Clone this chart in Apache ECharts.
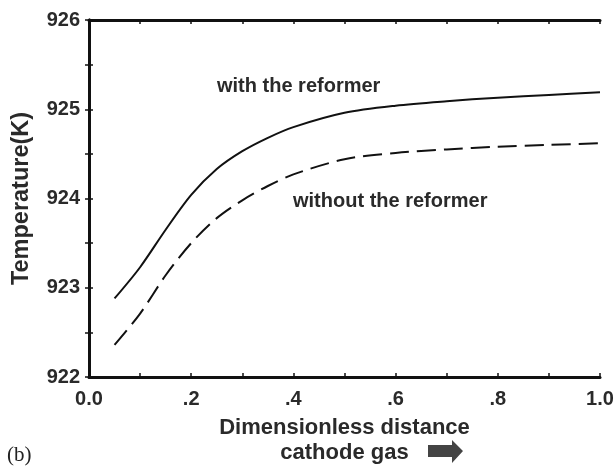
<!DOCTYPE html>
<html>
  <head>
    <meta charset="utf-8" />
    <title>Temperature along cathode gas</title>
    <script src="https://cdn.jsdelivr.net/npm/echarts@6/dist/echarts.min.js"></script>
    <style>
      body { margin: 0; padding: 0; background: #fff; }
      #main { width: 615px; height: 468px; }
    </style>
  </head>
  <body>
    <div id="main"></div>
    <script type="text/javascript">
      // dimensionless distance along the cathode gas
      var distance = [0.05, 0.1, 0.15, 0.2, 0.25, 0.3, 0.35, 0.4, 0.5, 0.6, 0.7, 0.8, 0.9, 1.0];
      var withReformer = [922.88, 923.23, 923.65, 924.04, 924.33, 924.53, 924.68, 924.80, 924.96, 925.04, 925.09, 925.13, 925.16, 925.19];
      var withoutReformer = [922.36, 922.71, 923.14, 923.50, 923.78, 923.98, 924.14, 924.27, 924.44, 924.51, 924.55, 924.58, 924.60, 924.62];
      var xTickLabels = { "0.0": "0.0", "0.2": ".2", "0.4": ".4", "0.6": ".6", "0.8": ".8", "1.0": "1.0" };

      var myChart = echarts.init(document.getElementById("main"));
      var ink = "#111";
      var textCol = "#2a2a2a";
      var font = "Liberation Sans, Arial, sans-serif";

      function pairs(ys) {
        return distance.map(function (x, i) { return [x, ys[i]]; });
      }

      var frameLine = { show: true, lineStyle: { color: ink, width: 3 } };
      var tickIn = { show: true, inside: true, length: 4, lineStyle: { color: ink, width: 1.5 } };

      var option = {
        animation: false,
        grid: { left: 89, right: 15, top: 20, bottom: 91, outerBoundsMode: "none", containLabel: false },
        xAxis: [
          {
            type: "value", min: 0, max: 1, interval: 0.1,
            axisLine: frameLine, axisTick: tickIn, splitLine: { show: false },
            axisLabel: {
              margin: 12, color: textCol, fontWeight: "bold", fontSize: 20, fontFamily: font,
              formatter: function (v) { return xTickLabels[v.toFixed(1)] || ""; }
            },
            name: "Dimensionless distance\ncathode gas",
            nameLocation: "middle", nameGap: 38,
            nameTextStyle: { color: textCol, fontWeight: "bold", fontSize: 22, fontFamily: font, lineHeight: 25 }
          },
          {
            type: "value", position: "top", min: 0, max: 1, interval: 0.1,
            axisLine: frameLine, axisTick: tickIn, axisLabel: { show: false }, splitLine: { show: false }
          }
        ],
        yAxis: [
          {
            type: "value", min: 922, max: 926, interval: 0.5,
            axisLine: frameLine, axisTick: tickIn, splitLine: { show: false },
            axisLabel: {
              margin: 9, color: textCol, fontWeight: "bold", fontSize: 20, fontFamily: font,
              formatter: function (v) { return v % 1 === 0 ? String(v) : ""; }
            },
            name: "Temperature(K)", nameLocation: "middle", nameGap: 55,
            nameTextStyle: { color: textCol, fontWeight: "bold", fontSize: 23.5, fontFamily: font }
          },
          {
            type: "value", position: "right", min: 922, max: 926, interval: 0.5,
            axisLine: frameLine, axisTick: tickIn, axisLabel: { show: false }, splitLine: { show: false }
          }
        ],
        series: [
          {
            name: "with the reformer", type: "line", smooth: 0.3, symbol: "none",
            data: pairs(withReformer),
            lineStyle: { color: ink, width: 2 }
          },
          {
            name: "without the reformer", type: "line", smooth: 0.3, symbol: "none",
            data: pairs(withoutReformer),
            lineStyle: { color: ink, width: 2, type: [19, 8] }
          }
        ],
        graphic: [
          {
            type: "text", left: 217, top: 76,
            style: { text: "with the reformer", fill: textCol, font: "bold 20px " + font }
          },
          {
            type: "text", left: 293, top: 191,
            style: { text: "without the reformer", fill: textCol, font: "bold 20px " + font }
          },
          {
            type: "text", left: 7, top: 445,
            style: { text: "(b)", fill: "#222", font: "21px Liberation Serif, Times New Roman, serif" }
          },
          {
            type: "polygon",
            shape: { points: [[428, 445], [452, 445], [452, 440], [463, 451], [452, 463], [452, 457], [428, 457]] },
            style: { fill: "#444" }
          }
        ]
      };

      myChart.setOption(option);
    </script>
  </body>
</html>
